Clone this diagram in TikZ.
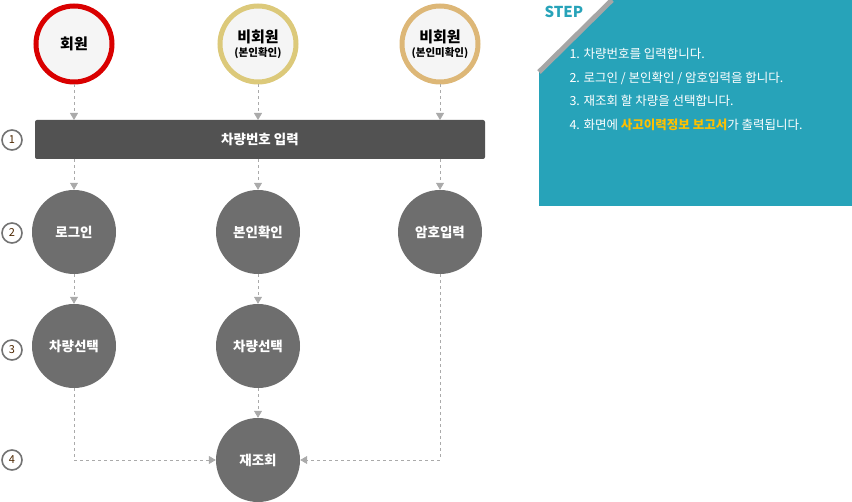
\documentclass[tikz,border=0pt]{standalone}
\usepackage{fontspec}
\setmainfont{Noto Sans CJK KR}
\usetikzlibrary{arrows.meta}
\definecolor{teal}{HTML}{27A3B9}
\definecolor{cgray}{HTML}{6E6E6E}
\definecolor{lgray}{HTML}{AAAAAA}
\definecolor{hl}{HTML}{FFC000}
\begin{document}
\begin{tikzpicture}[x=1pt,y=-1pt,
  top/.style={circle,line width=5pt,fill=black!4,minimum size=76pt,inner sep=0pt,align=center,font=\bfseries\fontsize{15}{17}\selectfont},
  proc/.style={circle,fill=cgray,minimum size=84pt,inner sep=0pt,text=white,font=\bfseries\fontsize{13.5}{16}\selectfont},
  num/.style={circle,draw=black!55,line width=1.6pt,minimum size=20pt,inner sep=0pt,text=black!70!orange,font=\fontsize{11}{12}\selectfont},
  conn/.style={lgray,dashed,line width=0.8pt,-{Triangle[length=7pt,width=8pt]}}]
\useasboundingbox (0,0) rectangle (852,502);
% step box
\fill[teal] (539,0) rectangle (852,206);
\fill[white] (539,0) -- (612,0) -- (539,72) -- cycle;
\draw[black!35,line width=5pt] (612,0) -- (539,72);
\node[anchor=west,text=teal,font=\bfseries\fontsize{15}{16}\selectfont] (steplbl) at (541,12) {STEP};
\node[anchor=north west,text=white,align=left,font=\fontsize{12.5}{23.5}\selectfont] (steps) at (566,45)
 {1. 차량번호를 입력합니다.\\2. 로그인 / 본인확인 / 암호입력을 합니다.\\3. 재조회 할 차량을 선택합니다.\\4. 화면에 \textcolor{hl}{\bfseries 사고이력정보 보고서}가 출력됩니다.};
% top circles
\node[top,draw=red!85!black] (t1) at (74,44) {회원};
\node[top,draw={rgb,255:red,220;green,201;blue,122}] (t2) at (258,44) {비회원\\[-3pt]{\fontsize{10.5}{12}\selectfont(본인확인)}};
\node[top,draw={rgb,255:red,221;green,183;blue,119}] (t3) at (440,44) {비회원\\[-3pt]{\fontsize{10.5}{12}\selectfont(본인미확인)}};
% bar
\node[fill=black!68,rounded corners=2pt,minimum width=450pt,minimum height=39pt,text=white,font=\bfseries\fontsize{13.5}{16}\selectfont] (bar) at (260,139.5) {차량번호 입력};
\coordinate (b1) at (74,120); \coordinate (b2) at (258,120); \coordinate (b3) at (440,120);
\coordinate (c1) at (74,159); \coordinate (c2) at (258,159); \coordinate (c3) at (440,159);
% process circles
\node[proc] (p1) at (74,232) {로그인};
\node[proc] (p2) at (258,232) {본인확인};
\node[proc] (p3) at (440,232) {암호입력};
\node[proc] (s1) at (74,346) {차량선택};
\node[proc] (s2) at (258,346) {차량선택};
\node[proc] (r) at (258,460) {재조회};
% numbers
\node[num] (n1) at (12,140) {1};
\node[num] (n2) at (12,233) {2};
\node[num] (n3) at (12,350) {3};
\node[num] (n4) at (12,460) {4};
% connectors
\draw[conn] (t1) -- (b1);
\draw[conn] (t2) -- (b2);
\draw[conn] (t3) -- (b3);
\draw[conn] (c1) -- (p1);
\draw[conn] (c2) -- (p2);
\draw[conn] (c3) -- (p3);
\draw[conn] (p1) -- (s1);
\draw[conn] (p2) -- (s2);
\draw[conn] (s2) -- (r);
\draw[conn] (s1.south) |- (r.west);
\draw[conn] (p3.south) |- (r.east);
\end{tikzpicture}
\end{document}
